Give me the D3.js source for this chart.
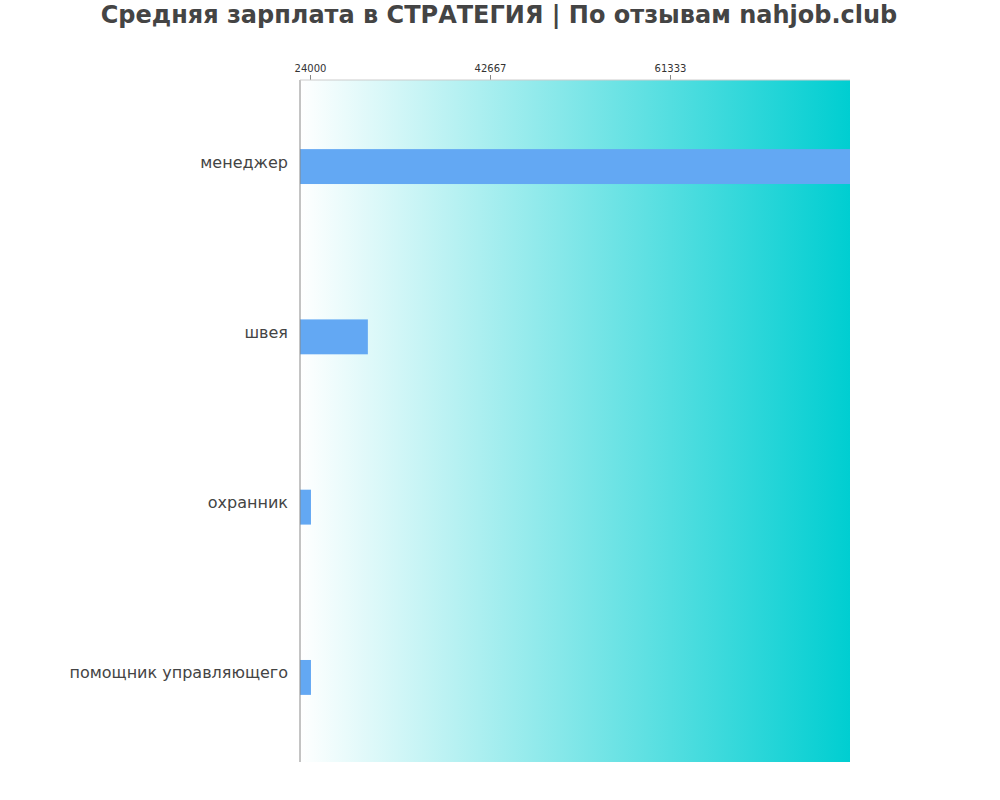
<!DOCTYPE html>
<html><head><meta charset="utf-8">
<script src="https://cdn.jsdelivr.net/npm/d3@7"></script>
<style>body{margin:0;background:#fff;font-family:"DejaVu Sans",sans-serif}</style>
</head><body>
<svg width="1000" height="800"></svg>
<script>
var categories = ['менеджер', 'швея', 'охранник', 'помощник управляющего'];
var salaries = [80000, 30000, 24100, 24100];
var tickValues = [24000, 42667, 61333];

var svg = d3.select('svg');
var plotLeft = 300, plotRight = 850, plotTop = 80, plotBottom = 762;

var x = d3.scaleLinear().domain([22963, 80000]).range([plotLeft, plotRight]);
var y = d3.scaleBand().domain(categories).range([plotTop + 1, plotBottom + 1]).paddingInner(0.795).paddingOuter(0.4);

var grad = svg.append('defs').append('linearGradient').attr('id', 'bg');
grad.append('stop').attr('offset', '0%').attr('stop-color', '#ffffff');
grad.append('stop').attr('offset', '100%').attr('stop-color', '#00ced1');

svg.append('rect').attr('x', plotLeft).attr('y', plotTop).attr('width', plotRight - plotLeft).attr('height', plotBottom - plotTop).attr('fill', 'url(#bg)');

svg.append('text').attr('x', 499).attr('y', 23).attr('text-anchor', 'middle')
    .attr('font-size', 24).attr('font-weight', 'bold').attr('fill', '#444')
    .text('Средняя зарплата в СТРАТЕГИЯ | По отзывам nahjob.club');

svg.selectAll('rect.bar').data(categories).enter().append('rect')
    .attr('class', 'bar')
    .attr('x', plotLeft)
    .attr('y', d => y(d))
    .attr('width', (d, i) => x(salaries[i]) - plotLeft)
    .attr('height', y.bandwidth())
    .attr('fill', '#63a8f3');

var ax = svg.append('g').attr('transform', 'translate(0,' + plotTop + ')')
    .call(d3.axisTop(x).tickValues(tickValues).tickFormat(d3.format('d')).tickSize(5));
ax.select('.domain').remove();
ax.selectAll('line').attr('stroke', '#888');
ax.selectAll('text').attr('font-size', 10).attr('fill', '#333').attr('font-family', 'DejaVu Sans');

svg.append('line').attr('x1', plotLeft).attr('x2', plotLeft).attr('y1', plotTop).attr('y2', plotBottom).attr('stroke', '#888');
svg.append('line').attr('x1', plotLeft).attr('x2', plotRight).attr('y1', plotTop).attr('y2', plotTop).attr('stroke', '#ccc');

svg.selectAll('text.cat').data(categories).enter().append('text')
    .attr('class', 'cat')
    .attr('x', plotLeft - 12)
    .attr('y', d => y(d) + y.bandwidth() / 2 + 1)
    .attr('text-anchor', 'end').attr('font-size', 16).attr('fill', '#444')
    .text(d => d);
</script>
</body></html>
